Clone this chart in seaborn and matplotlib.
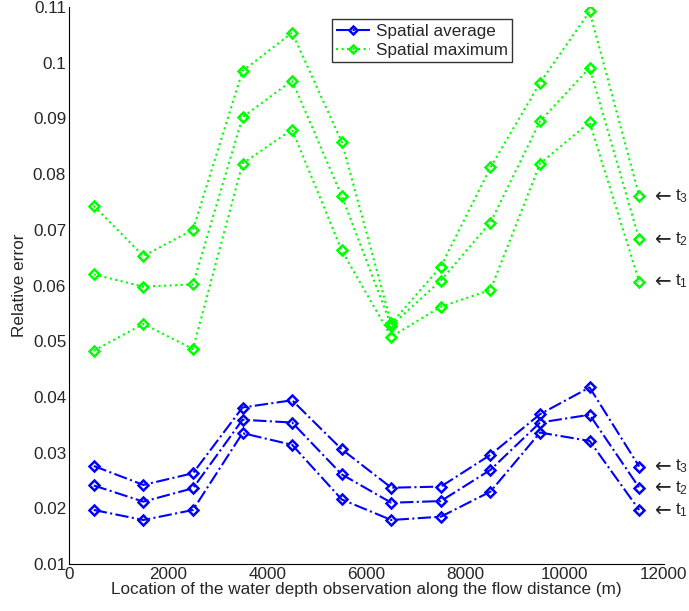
import matplotlib
matplotlib.use("Agg")
import matplotlib.pyplot as plt
import seaborn as sns
import numpy as np
import pandas as pd
from matplotlib.lines import Line2D

# Observation locations (m)
locations = [500, 1500, 2500, 3500, 4500, 5500, 6500, 7500, 8500, 9500, 10500, 11500]

# Spatial average, t1..t3
avg_t1 = [0.0197, 0.0179, 0.0197, 0.0335, 0.0314, 0.0216, 0.0179, 0.0185, 0.0230, 0.0336, 0.0321, 0.0197]
avg_t2 = [0.0241, 0.0212, 0.0236, 0.0359, 0.0354, 0.0261, 0.0210, 0.0213, 0.0269, 0.0354, 0.0368, 0.0237]
avg_t3 = [0.0276, 0.0242, 0.0263, 0.0381, 0.0394, 0.0306, 0.0237, 0.0239, 0.0296, 0.0369, 0.0417, 0.0275]

# Spatial maximum, t1..t3
max_t1 = [0.0483, 0.0531, 0.0486, 0.0819, 0.0880, 0.0663, 0.0508, 0.0562, 0.0592, 0.0819, 0.0893, 0.0607]
max_t2 = [0.0620, 0.0598, 0.0602, 0.0902, 0.0968, 0.0761, 0.0528, 0.0609, 0.0713, 0.0895, 0.0991, 0.0683]
max_t3 = [0.0743, 0.0653, 0.0700, 0.0985, 0.1054, 0.0858, 0.0532, 0.0634, 0.0812, 0.0964, 0.1092, 0.0761]

time_labels = ["t$_1$", "t$_2$", "t$_3$"]

sns.set_style("white")
plt.rcParams["font.family"] = ["Liberation Sans", "DejaVu Sans"]
plt.rcParams["mathtext.fontset"] = "custom"
plt.rcParams["mathtext.rm"] = "Liberation Sans"
plt.rcParams["mathtext.it"] = "Liberation Sans"

FS = 12.3

fig = plt.figure(figsize=(6.89, 6.11), dpi=100)
ax = fig.add_axes([0.1001, 0.0769, 0.8636, 0.9116])

blue = "#0000ff"
green = "#00ff00"

series = [
    (avg_t1, blue, "-."), (avg_t2, blue, "-."), (avg_t3, blue, "-."),
    (max_t1, green, ":"), (max_t2, green, ":"), (max_t3, green, ":"),
]
for vals, col, ls in series:
    sns.lineplot(x=locations, y=vals, ax=ax, color=col, linestyle=ls, linewidth=1.5,
                 marker="D", markersize=5.5, markerfacecolor="none", markeredgecolor=col,
                 markeredgewidth=1.8, legend=False)

# t1..t3 labels on the right
for vals_list in [(avg_t1, avg_t2, avg_t3), (max_t1, max_t2, max_t3)]:
    for vals, lab in zip(vals_list, time_labels):
        ax.annotate("\u2190", xy=(locations[-1], vals[-1]), xytext=(11, 0),
                    textcoords="offset points", fontsize=FS + 2, va="center", ha="left",
                    family=["DejaVu Sans"], annotation_clip=False)
        ax.annotate(lab, xy=(locations[-1], vals[-1]), xytext=(26, 0),
                    textcoords="offset points", fontsize=FS, va="center", ha="left",
                    annotation_clip=False)

ax.set_xlim(0, 12000)
ax.set_ylim(0.01, 0.11)
ax.set_xticks(np.arange(0, 12001, 2000))
ax.set_yticks(np.arange(0.01, 0.1101, 0.01))
ax.set_yticklabels(["0.01", "0.02", "0.03", "0.04", "0.05", "0.06", "0.07", "0.08", "0.09", "0.1", "0.11"])
ax.tick_params(direction="in", length=5, labelsize=FS, width=0.8, pad=2)
ax.spines["top"].set_visible(False)
ax.spines["right"].set_visible(False)
for s in ["left", "bottom"]:
    ax.spines[s].set_linewidth(0.8)
    ax.spines[s].set_color("black")

ax.set_xlabel("Location of the water depth observation along the flow distance (m)", fontsize=FS, labelpad=0)
ax.set_ylabel("Relative error", fontsize=FS, labelpad=4)

handles = [
    Line2D([], [], color=blue, linestyle="-.", linewidth=1.5, marker="D", markersize=4.5,
           markerfacecolor="none", markeredgewidth=1.8),
    Line2D([], [], color=green, linestyle=":", linewidth=1.5, marker="D", markersize=4.5,
           markerfacecolor="none", markeredgewidth=1.8),
]
leg = ax.legend(handles, ["Spatial average", "Spatial maximum"], loc="upper left",
                bbox_to_anchor=(0.442, 0.978), fontsize=FS, frameon=True, fancybox=False,
                handlelength=2.0, handletextpad=0.3, borderpad=0.25, labelspacing=0.25,
                borderaxespad=0)
leg.get_frame().set_edgecolor("black")
leg.get_frame().set_linewidth(1.0)

fig.savefig("out.png", dpi=100)
